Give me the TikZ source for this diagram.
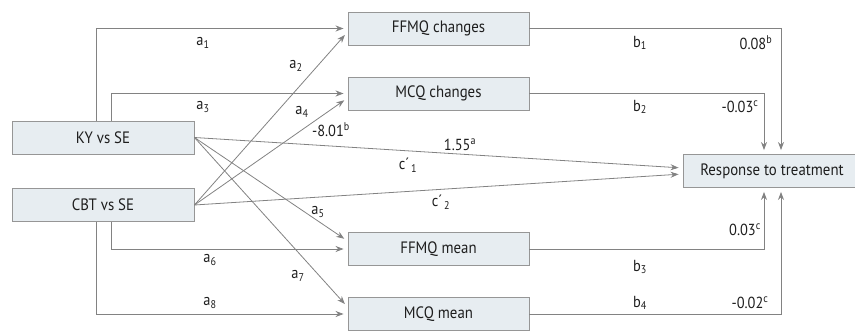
\documentclass[tikz,border=0pt]{standalone}
\usepackage{fontspec}
\setmainfont[FakeStretch=0.9]{PT Sans}
\usetikzlibrary{arrows.meta,calc}
\definecolor{boxfill}{RGB}{231,237,241}
\definecolor{boxline}{RGB}{150,150,150}
\definecolor{conn}{RGB}{130,130,130}
\definecolor{txt}{RGB}{30,30,30}
\tikzset{
  box/.style={draw=boxline, line width=0.9pt, fill=boxfill, minimum height=33pt, inner sep=0pt, text=txt, font=\fontsize{16.5}{19}\selectfont},
  conn/.style={draw=conn, line width=0.8pt, -{Stealth[length=8pt,width=6pt]}, shorten >=4pt},
  lbl/.style={text=txt, inner sep=0pt, font=\fontsize{16}{19}\selectfont},
}
\begin{document}
\begin{tikzpicture}[x=1pt,y=-1pt]
\useasboundingbox (0,0) rectangle (855,331);
% boxes
\node[box, minimum width=182pt] (KY) at (103,137.5) {KY vs SE};
\node[box, minimum width=182pt] (CBT) at (103,205) {CBT vs SE};
\node[box, minimum width=181pt] (FC) at (438.5,28.5) {FFMQ changes};
\node[box, minimum width=181pt] (MC) at (438.5,93.5) {MCQ changes};
\node[box, minimum width=181pt] (FM) at (438.5,249) {FFMQ mean};
\node[box, minimum width=181pt] (MM) at (438.5,314) {MCQ mean};
\node[box, minimum width=178pt] (R) at (772,171) {Response to treatment};
% left connectors
\draw[conn] ([xshift=-7pt]KY.north) |- (FC.west);
\draw[conn] ([xshift=8pt]KY.north) |- (MC.west);
\draw[conn] ([xshift=8pt]CBT.south) |- (FM.west);
\draw[conn] ([xshift=-7pt]CBT.south) |- (MM.west);
\draw[conn] (KY.east) -- ($(FM.west)+(0,-8)$);
\draw[conn] (KY.east) -- ($(MM.west)+(0,-7)$);
\draw[conn] (CBT.east) -- ($(FC.west)+(0,3.5)$);
\draw[conn] (CBT.east) -- ($(MC.west)+(0,4.5)$);
\draw[conn] (KY.east) -- ($(R.west)+(0,-3)$);
\draw[conn] (CBT.east) -- ($(R.west)+(0,3)$);
% right connectors
\draw[conn] (FC.east) -| ([xshift=9pt]R.north);
\draw[conn] (MC.east) -| ([xshift=-8pt]R.north);
\draw[conn] (FM.east) -| ([xshift=-8pt]R.south);
\draw[conn] (MM.east) -| ([xshift=9pt]R.south);
% labels
\node[lbl] (la1) at (203,43) {a\textsubscript{1}};
\node[lbl] (la2) at (296,66) {a\textsubscript{2}};
\node[lbl] (la3) at (203,107) {a\textsubscript{3}};
\node[lbl] (la4) at (302,112) {a\textsubscript{4}};
\node[lbl] (lv4) at (331,130) {-8.01\textsuperscript{b}};
\node[lbl] (lc1) at (408,165) {c´\textsubscript{\,1}};
\node[lbl] (lv1) at (460,145) {1.55\textsuperscript{a}};
\node[lbl] (lc2) at (441,202) {c´\textsubscript{\,2}};
\node[lbl] (la5) at (318,212) {a\textsubscript{5}};
\node[lbl] (la6) at (210,260) {a\textsubscript{6}};
\node[lbl] (la7) at (298,276) {a\textsubscript{7}};
\node[lbl] (la8) at (210,303) {a\textsubscript{8}};
\node[lbl] (lb1) at (640,43) {b\textsubscript{1}};
\node[lbl] (lvb1) at (756,43) {0.08\textsuperscript{b}};
\node[lbl] (lb2) at (640,107) {b\textsubscript{2}};
\node[lbl] (lvb2) at (740,107) {-0.03\textsuperscript{c}};
\node[lbl] (lvb3) at (745,230) {0.03\textsuperscript{c}};
\node[lbl] (lb3) at (640,267) {b\textsubscript{3}};
\node[lbl] (lb4) at (640,303) {b\textsubscript{4}};
\node[lbl] (lvb4) at (750,303) {-0.02\textsuperscript{c}};
\end{tikzpicture}
\end{document}
